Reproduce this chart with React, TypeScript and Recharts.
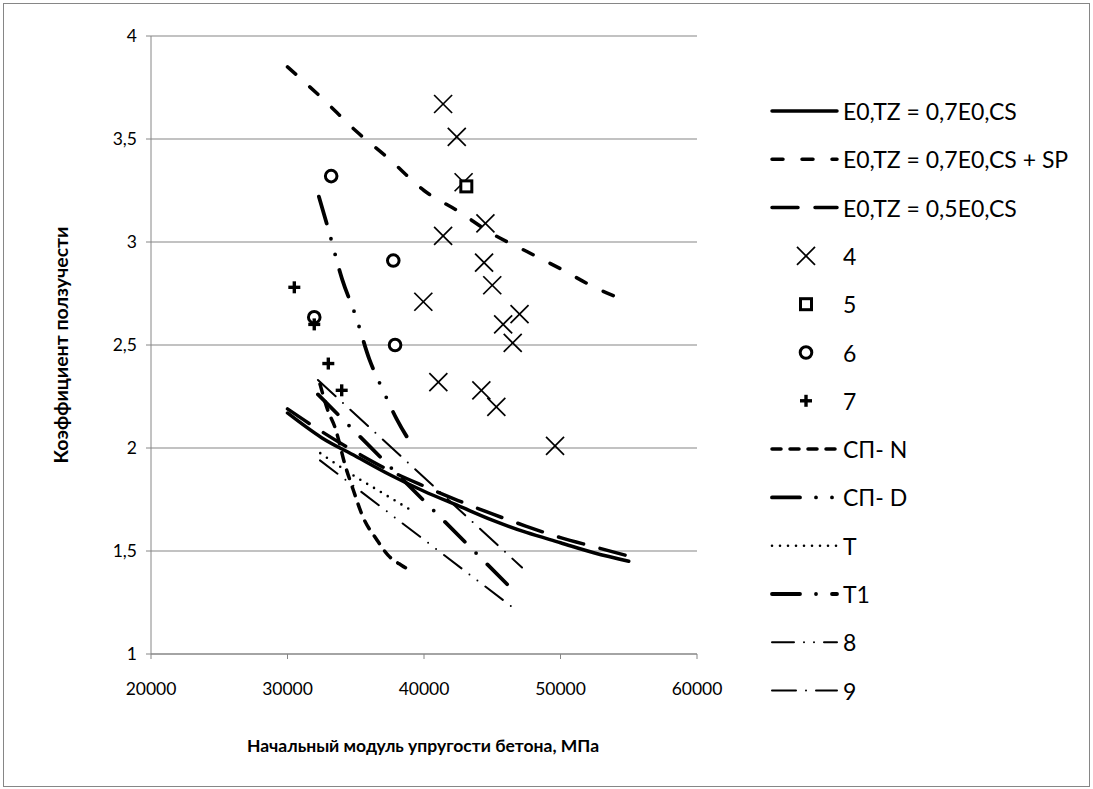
import React from "react";
import { CartesianGrid, ComposedChart, Line, Scatter, XAxis, YAxis } from "recharts";

const WIDTH = 1093;
const HEIGHT = 789;
const GRID = "#868686";
const FONT = "Lato, 'Noto Sans', sans-serif";

const eTicks = [20000, 30000, 40000, 50000, 60000];
const kTicks = [1, 1.5, 2, 2.5, 3, 3.5, 4];

// design curves, E0 in MPa
const eDesign = [30000, 32500, 35000, 37500, 40000, 42500, 45000, 47500, 50000, 52500, 55000];
const kCs07 = [2.17, 2.05, 1.96, 1.87, 1.79, 1.72, 1.65, 1.59, 1.54, 1.49, 1.45];
const kCs07Sp = [3.85, 3.7, 3.54, 3.4, 3.25, 3.15, 3.04, 2.955, 2.87, 2.78, 2.71];
const kCs05 = [2.19, 2.08, 1.98, 1.89, 1.815, 1.745, 1.68, 1.62, 1.565, 1.52, 1.475];

// test series
const e4 = [41400, 42400, 42900, 44500, 41400, 39950, 44400, 45000, 47000, 45800, 46500, 41050, 44200, 45300, 49600];
const k4 = [3.67, 3.51, 3.29, 3.09, 3.03, 2.71, 2.9, 2.79, 2.65, 2.6, 2.51, 2.32, 2.28, 2.2, 2.01];
const e5 = [43100];
const k5 = [3.27];
const e6 = [33200, 37750, 31960, 37880];
const k6 = [3.32, 2.91, 2.635, 2.5];
const e7 = [30500, 31960, 32990, 33970];
const k7 = [2.78, 2.6, 2.41, 2.28];

// norm curves
const eSpN = [32380, 32970, 33480, 34250, 34800, 35530, 36540, 37360, 38370, 39190];
const kSpN = [2.31, 2.18, 2.1, 1.91, 1.8, 1.665, 1.555, 1.48, 1.43, 1.4];
const eSpD = [32300, 33000, 34000, 35000, 36000, 37000, 38000, 39270];
const kSpD = [3.22, 3.06, 2.82, 2.64, 2.43, 2.28, 2.14, 2.0];
const eT = [32400, 35000, 37000, 39000];
const kT = [1.975, 1.86, 1.78, 1.7];
const eT1 = [32230, 46370];
const kT1 = [2.26, 1.32];
const e8 = [32380, 46620];
const k8 = [1.94, 1.22];
const e9 = [32230, 47180];
const k9 = [2.33, 1.42];

const pts = (e: number[], k: number[]) => e.map((x, i) => ({ e: x, k: k[i] }));

type Stroke = { width: number; dash?: string };

const sCs07: Stroke = { width: 3.5 };
const sCs07Sp: Stroke = { width: 3.5, dash: "11 19" };
const sCs05: Stroke = { width: 3.5, dash: "26 17" };
const sSpN: Stroke = { width: 3.5, dash: "9 9" };
const sSpD: Stroke = { width: 3.8, dash: "28 16 0 16 0 16" };
const sT: Stroke = { width: 2.6, dash: "0 8" };
const sT1: Stroke = { width: 3.8, dash: "28 16 0 16" };
const s8: Stroke = { width: 2, dash: "22 10 0 10 0 10" };
const s9: Stroke = { width: 2, dash: "24 10 0 10" };

type MarkProps = { cx?: number; cy?: number };

const Cross = ({ cx = 0, cy = 0 }: MarkProps) => (
  <g stroke="#000" strokeWidth={1.7}>
    <line x1={cx - 9} y1={cy - 9} x2={cx + 9} y2={cy + 9} />
    <line x1={cx - 9} y1={cy + 9} x2={cx + 9} y2={cy - 9} />
  </g>
);

const Box = ({ cx = 0, cy = 0 }: MarkProps) => (
  <rect x={cx - 5.5} y={cy - 5.5} width={11} height={11} fill="#fff" stroke="#000" strokeWidth={3} />
);

const Ring = ({ cx = 0, cy = 0 }: MarkProps) => (
  <circle cx={cx} cy={cy} r={5.8} fill="#fff" stroke="#000" strokeWidth={3} />
);

const Plus = ({ cx = 0, cy = 0 }: MarkProps) => (
  <g stroke="#000" strokeWidth={3.4}>
    <line x1={cx - 6} y1={cy} x2={cx + 6} y2={cy} />
    <line x1={cx} y1={cy - 6} x2={cx} y2={cy + 6} />
  </g>
);

type Entry = { label: string; stroke?: Stroke; Mark?: (p: MarkProps) => React.ReactElement };

const legendEntries: Entry[] = [
  { label: "E0,TZ = 0,7E0,CS", stroke: sCs07 },
  { label: "E0,TZ = 0,7E0,CS + SP", stroke: sCs07Sp },
  { label: "E0,TZ = 0,5E0,CS", stroke: sCs05 },
  { label: "4", Mark: Cross },
  { label: "5", Mark: Box },
  { label: "6", Mark: Ring },
  { label: "7", Mark: Plus },
  { label: "СП- N", stroke: sSpN },
  { label: "СП- D", stroke: sSpD },
  { label: "T", stroke: sT },
  { label: "T1", stroke: sT1 },
  { label: "8", stroke: s8 },
  { label: "9", stroke: s9 },
];

function curve(e: number[], k: number[], s: Stroke, smooth = true) {
  return (
    <Line
      data={pts(e, k)}
      dataKey="k"
      type={smooth ? "monotone" : "linear"}
      stroke="#000"
      strokeWidth={s.width}
      strokeDasharray={s.dash}
      strokeLinecap="round"
      dot={false}
      activeDot={false}
      isAnimationActive={false}
    />
  );
}

function ChartLegend() {
  const top = 86;
  const rowY = (i: number) => 111 - top + i * 48.3;
  return (
    <svg
      width={330}
      height={640}
      style={{ position: "absolute", left: 760, top, fontFamily: FONT }}
    >
      {legendEntries.map((it, i) => {
        const y = rowY(i);
        return (
          <g key={it.label}>
            {it.stroke && (
              <line
                x1={12}
                y1={y}
                x2={77}
                y2={y}
                stroke="#000"
                strokeWidth={it.stroke.width}
                strokeDasharray={it.stroke.dash}
                strokeLinecap="round"
              />
            )}
            {it.Mark && <it.Mark cx={46} cy={y} />}
            <text x={83} y={y} dominantBaseline="central" fontSize={23} fill="#000">
              {it.label}
            </text>
          </g>
        );
      })}
    </svg>
  );
}

export default function App() {
  return (
    <div
      style={{
        position: "absolute",
        left: 0,
        top: 0,
        width: WIDTH,
        height: HEIGHT,
        background: "#fff",
        fontFamily: FONT,
      }}
    >
      <div
        style={{
          position: "absolute",
          left: 3,
          top: 3,
          width: 1085,
          height: 782,
          border: `1px solid ${GRID}`,
        }}
      />
      <ComposedChart
        width={WIDTH}
        height={HEIGHT}
        margin={{ top: 36, right: 396, bottom: 75, left: 91 }}
        style={{ position: "absolute", left: 0, top: 0 }}
      >
        <CartesianGrid vertical={false} stroke={GRID} strokeWidth={1.2} />
        <XAxis
          type="number"
          dataKey="e"
          domain={[20000, 60000]}
          ticks={eTicks}
          height={60}
          stroke={GRID}
          tickSize={5}
          tickMargin={24}
          tick={{ fontSize: 17.5, fill: "#000", fontFamily: FONT }}
          allowDuplicatedCategory={false}
        />
        <YAxis
          type="number"
          dataKey="k"
          domain={[1, 4]}
          ticks={kTicks}
          width={60}
          stroke={GRID}
          tickSize={5}
          tickMargin={9}
          tickFormatter={(v: number) => String(v).replace(".", ",")}
          tick={{ fontSize: 17.5, fill: "#000", fontFamily: FONT }}
        />
        {curve(eDesign, kCs07, sCs07)}
        {curve(eDesign, kCs07Sp, sCs07Sp)}
        {curve(eDesign, kCs05, sCs05)}
        <Scatter data={pts(e4, k4)} dataKey="k" shape={(p: MarkProps) => <Cross cx={p.cx} cy={p.cy} />} isAnimationActive={false} />
        <Scatter data={pts(e5, k5)} dataKey="k" shape={(p: MarkProps) => <Box cx={p.cx} cy={p.cy} />} isAnimationActive={false} />
        <Scatter data={pts(e6, k6)} dataKey="k" shape={(p: MarkProps) => <Ring cx={p.cx} cy={p.cy} />} isAnimationActive={false} />
        <Scatter data={pts(e7, k7)} dataKey="k" shape={(p: MarkProps) => <Plus cx={p.cx} cy={p.cy} />} isAnimationActive={false} />
        {curve(eSpN, kSpN, sSpN)}
        {curve(eSpD, kSpD, sSpD)}
        {curve(eT, kT, sT)}
        {curve(eT1, kT1, sT1, false)}
        {curve(e8, k8, s8, false)}
        {curve(e9, k9, s9, false)}
      </ComposedChart>
      <svg width={WIDTH} height={HEIGHT} style={{ position: "absolute", left: 0, top: 0, pointerEvents: "none" }}>
        <text
          x={60}
          y={345}
          transform="rotate(-90 60 345)"
          textAnchor="middle"
          dominantBaseline="central"
          fontSize={19.5}
          fontWeight="bold"
          fontFamily={FONT}
        >
          Коэффициент ползучести
        </text>
        <text
          x={423}
          y={745}
          textAnchor="middle"
          dominantBaseline="central"
          fontSize={17.5}
          fontWeight="bold"
          fontFamily={FONT}
        >
          Начальный модуль упругости бетона, МПа
        </text>
      </svg>
      <ChartLegend />
    </div>
  );
}
